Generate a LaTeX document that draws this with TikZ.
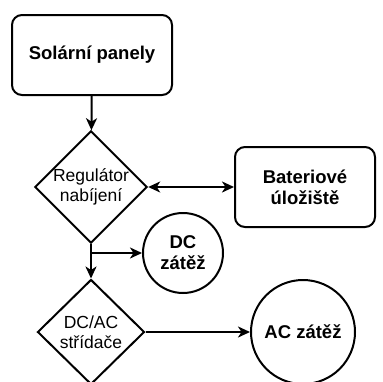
\documentclass[tikz,border=0pt]{standalone}
\usepackage{fontspec}
\setmainfont{Liberation Sans}
\usetikzlibrary{shapes.geometric,arrows.meta}
\begin{document}
\begin{tikzpicture}[x=1pt,y=-1pt,
  line width=2pt,
  head/.tip={Stealth[length=12pt,width=11pt,inset=3.5pt]},
  tip/.style={-head},
  boxnode/.style={draw,rounded corners=10pt,minimum width=160pt,minimum height=80pt,align=center,font=\fontsize{18.5}{21}\selectfont\bfseries},
  decision/.style={draw,diamond,minimum width=107pt,minimum height=105pt,inner sep=0pt,align=center,font=\fontsize{17.5}{20}\selectfont},
  loadnode/.style={draw,circle,align=center,inner sep=0pt,font=\fontsize{18.5}{21}\selectfont\bfseries}
]
\useasboundingbox (0,0) rectangle (383,381);
\node[boxnode] (solar) at (92,55) {Solární panely};
\node[decision] (reg) at (91,187) {Regulátor\\nabíjení};
\node[boxnode,minimum width=140pt] (bat) at (305,187) {Bateriové\\úložiště};
\node[loadnode,minimum size=80pt] (dc) at (183,253) {DC\\zátěž};
\node[decision] (inv) at (91,332) {DC/AC\\střídače};
\node[loadnode,minimum size=104pt] (ac) at (303,332) {AC zátěž};
\coordinate (split) at (91,253);
\draw[tip] (solar) -- (reg);
\draw[head-head] (reg) -- (bat);
\draw[tip] (reg.south) -- (inv.north);
\draw[tip] (split) -- (dc);
\draw[tip] (inv) -- (ac);
\end{tikzpicture}
\end{document}
